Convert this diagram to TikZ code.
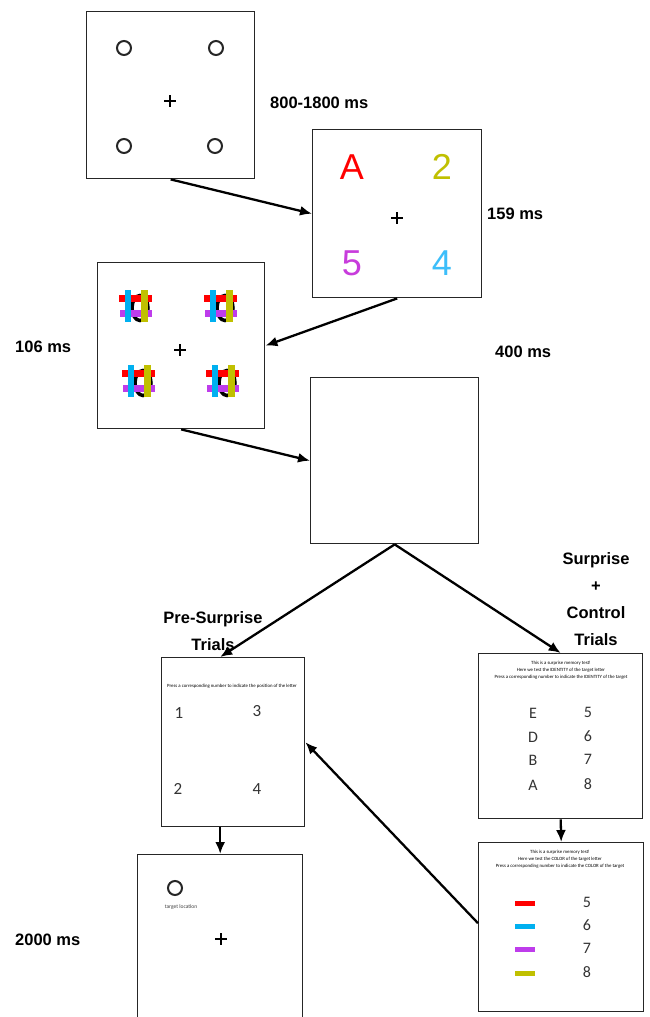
\documentclass[tikz,border=0pt]{standalone}
\usepackage{fontspec}
\setmainfont{Liberation Sans}
\newfontfamily\carl{Carlito}
\usetikzlibrary{arrows.meta,calc}
\definecolor{cred}{RGB}{255,0,0}
\definecolor{cyel}{RGB}{192,192,0}
\definecolor{cpur}{RGB}{190,60,235}
\definecolor{cblu}{RGB}{0,176,240}
\definecolor{cblt}{RGB}{60,190,250}
\definecolor{cmag}{RGB}{200,60,220}
\begin{document}
\begin{tikzpicture}[x=1pt,y=-1pt,
  stim/.style={draw=black!85,line width=1.4pt,fill=white,inner sep=0pt,anchor=north west},
  flow/.style={-{Latex[length=12pt,width=10pt]},line width=2.3pt},
  lab/.style={font=\bfseries\fontsize{16.5}{27}\selectfont,align=center,inner sep=0pt},
  big/.style={font=\fontsize{36}{36}\selectfont,inner sep=0pt},
  num/.style={font=\carl\fontsize{17}{17}\selectfont,inner sep=0pt,text=black!80},
  tiny/.style={font=\carl\fontsize{4.8}{7}\selectfont,align=center,inner sep=0pt},
  ring/.style={draw=black!85,line width=2pt},
  fixx/.pic={\draw[line width=2.5pt] (-6,0)--(6,0) (0,-6)--(0,6);},
  mask/.pic={
    \draw[line width=3.5pt] (5,1) ellipse [x radius=8pt,y radius=12.5pt];
    \fill[cred] (-16,-12.5) rectangle (17,-5.5);
    \fill[cpur] (-15,3) rectangle (17,10);
    \fill[cblu] (-10.5,-17) rectangle (-4,15);
    \fill[cyel] (5.5,-17.5) rectangle (13,15);
  }]
\useasboundingbox[fill=white] (0,0) rectangle (650,1017);

% stimulus frames
\node[stim,minimum width=168pt,minimum height=167pt] (b1) at (86,11) {};
\node[stim,minimum width=169pt,minimum height=168pt] (b2) at (312,129) {};
\node[stim,minimum width=167pt,minimum height=166pt] (b3) at (97,262) {};
\node[stim,minimum width=168pt,minimum height=166pt] (b4) at (310,377) {};
\node[stim,minimum width=143pt,minimum height=169pt] (b5) at (161,657) {};
\node[stim,minimum width=164pt,minimum height=165pt] (b6) at (478,653) {};
\node[stim,minimum width=165pt,minimum height=169pt] (b7) at (478,842) {};
\node[stim,minimum width=165pt,minimum height=170pt] (b8) at (137,854) {};

% frame 1
\draw[ring] (124,48) circle[radius=7pt] (216,48) circle[radius=7pt]
  (124,146) circle[radius=7pt] (215,146) circle[radius=7pt];
\pic at (170,101) {fixx};
\node[lab,anchor=west] (t1) at (270,103) {800-1800 ms};

% frame 2
\node[big,text=cred] (sA) at (352,167) {A};
\node[big,text=cyel] (s2) at (442,167) {2};
\node[big,text=cmag] (s5) at (352,263) {5};
\node[big,text=cblt] (s4) at (442,263) {4};
\pic at (397,218) {fixx};
\node[lab,anchor=west] (t2) at (487,214) {159 ms};

% frame 3
\pic at (135,307) {mask};
\pic at (220,307) {mask};
\pic at (138,382) {mask};
\pic at (222,382) {mask};
\pic at (180,350) {fixx};
\node[lab,anchor=west] (t3) at (15,347) {106 ms};

% frame 4
\node[lab,anchor=west] (t4) at (495,352) {400 ms};

% branch labels
\node[lab] (pre) at (213,631) {Pre-Surprise\\Trials};
\node[lab] (sur) at (596,599) {Surprise\\+\\Control\\Trials};

% frame 5
\node[tiny] (p5) at (232,686) {Press a corresponding number to indicate the position of the letter};
\node[num] (n1) at (179,713) {1};
\node[num] (n3) at (257,711) {3};
\node[num] (n2) at (178,789) {2};
\node[num] (n4) at (257,789) {4};

% frame 6
\node[tiny] (p6) at (561,670) {This is a surprise memory test!\\Here we test the IDENTITY of the target letter\\Press a corresponding number to indicate the IDENTITY of the target};
\foreach \l/\n/\y in {E/5/713,D/6/737,B/7/760,A/8/785}{
  \node[num,font=\carl\fontsize{16}{16}\selectfont] at (533,\y) {\l};
  \node[num,font=\carl\fontsize{16}{16}\selectfont] at (588,\y-1) {\n};
}

% frame 7
\node[tiny] (p7) at (560,859) {This is a surprise memory test!\\Here we test the COLOR of the target letter\\Press a corresponding number to indicate the COLOR of the target};
\foreach \c/\n/\y in {cred/5/903,cblu/6/926,cpur/7/949,cyel/8/973}{
  \fill[\c] (515,\y-2.5) rectangle (535,\y+2.5);
  \node[num,font=\carl\fontsize{16}{16}\selectfont] at (587,\y-1) {\n};
}

% frame 8
\draw[ring] (175,888) circle[radius=7pt];
\node[font=\carl\fontsize{5.5}{6}\selectfont,inner sep=0pt,text=black!75] (tl) at (181,907) {target location};
\pic at (221,939) {fixx};
\node[lab,anchor=west] (t8) at (15,940) {2000 ms};

% connectors
\draw[flow] (b1.south) -- (b2.west);
\draw[flow] (b2.south) -- (b3.east);
\draw[flow] (b3.south) -- (b4.west);
\draw[flow] (b4.south) -- ($(b5.north west)!0.41!(b5.north east)$);
\draw[flow] (b4.south) -- (b6.north);
\draw[flow] (b5.south -| b8.north) -- (b8.north);
\draw[flow] (b6.south) -- (b7.north);
\draw[flow] ($(b7.west)+(0,-4)$) -- (b5.east);
\end{tikzpicture}
\end{document}
